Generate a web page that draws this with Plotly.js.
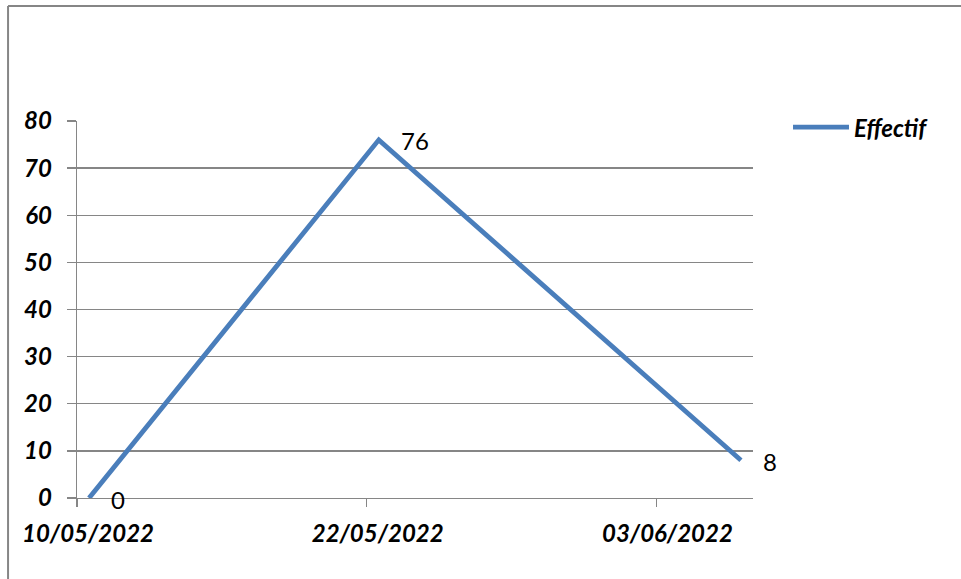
<!DOCTYPE html>
<html>
<head>
<meta charset="utf-8">
<script src="https://cdn.plot.ly/plotly-3.0.1.min.js"></script>
<style>
  html, body { margin: 0; padding: 0; background: #fff; }
  #chart { width: 961px; height: 579px; }
</style>
</head>
<body>
<div id="chart"></div>
<script>
// Effectif par date
const dates = ['2022-05-10', '2022-05-22', '2022-06-06'];
const effectif = [0, 76, 8];
const seriesName = 'Effectif';

const axisRange = ['2022-05-10', '2022-06-07'];
const yTicks = [0, 10, 20, 30, 40, 50, 60, 70, 80];

const blue = '#4a7ebb';
const grey = '#868686';
const axisFont = { family: 'Lato, "Open Sans", sans-serif', size: 24, color: '#000', weight: 'bold', style: 'italic' };
const labelFont = { family: 'Lato, "Open Sans", sans-serif', size: 24, color: '#000' };

// points sit in the middle of their day on the date axis
const xs = dates.map(d => d + ' 12:00');

const trace = {
  type: 'scatter',
  mode: 'lines',
  name: seriesName,
  x: xs,
  y: effectif,
  line: { color: blue, width: 4.8 },
  hoverinfo: 'x+y',
  showlegend: false
};

const valueLabels = effectif.map((v, i) => ({
  x: xs[i], y: v, xref: 'x', yref: 'y',
  text: String(v), showarrow: false,
  xanchor: 'left', yanchor: 'middle',
  xshift: 20, yshift: -1,
  font: labelFont
}));

const layout = {
  width: 961, height: 579,
  margin: { l: 77, r: 208, t: 121, b: 81, pad: 0 },
  paper_bgcolor: '#fff', plot_bgcolor: '#fff',
  xaxis: {
    type: 'date',
    range: axisRange,
    tick0: '2022-05-10',
    dtick: 12 * 86400000,
    tickformat: '%d/%m/%Y',
    ticks: 'outside', ticklen: 8, tickwidth: 1.3, tickcolor: grey,
    ticklabelshift: 11,
    ticklabelstandoff: 6,
    showline: true, linecolor: grey, linewidth: 1.3,
    showgrid: false, zeroline: false,
    tickfont: axisFont,
    fixedrange: true
  },
  yaxis: {
    range: [0, 80],
    tickvals: yTicks,
    ticks: 'outside', ticklen: 9, tickwidth: 1.3, tickcolor: grey,
    ticklabelstandoff: 10,
    showline: true, linecolor: grey, linewidth: 1.3,
    showgrid: true, gridcolor: grey, gridwidth: 1.3,
    zeroline: false,
    tickfont: axisFont,
    fixedrange: true
  },
  annotations: valueLabels.concat([{
    x: 1.1464, y: 0.984, xref: 'paper', yref: 'paper',
    text: seriesName, showarrow: false,
    xanchor: 'left', yanchor: 'middle',
    font: axisFont
  }]),
  shapes: [
    // chart frame
    { type: 'line', xref: 'paper', yref: 'paper', x0: -0.102, x1: -0.102, y0: -0.3, y1: 1.305,
      line: { color: grey, width: 2 } },
    { type: 'line', xref: 'paper', yref: 'paper', x0: -0.102, x1: 1.35, y0: 1.305, y1: 1.305,
      line: { color: grey, width: 2 } },
    // legend key
    { type: 'line', xref: 'paper', yref: 'paper', x0: 1.0592, x1: 1.142, y0: 0.984, y1: 0.984,
      line: { color: blue, width: 4.8 } }
  ],
  showlegend: false
};

Plotly.newPlot('chart', [trace], layout, { displayModeBar: false, staticPlot: true });
</script>
</body>
</html>
